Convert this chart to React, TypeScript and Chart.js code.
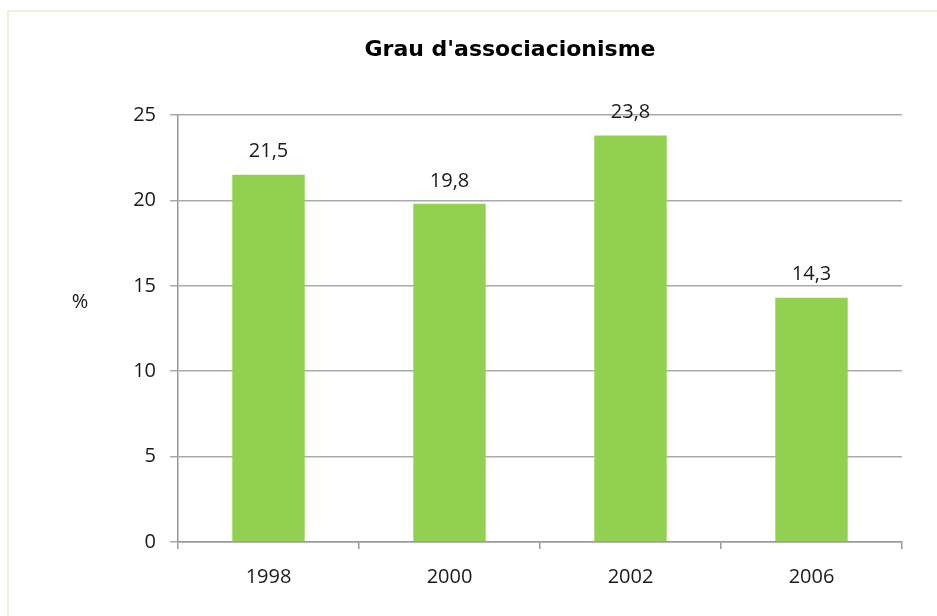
import React, { useEffect, useRef } from "react";
import { Chart, registerables } from "chart.js";

Chart.register(...registerables);

const titleText = "Grau d'associacionisme";
const yAxisLabel = "%";
const categories = ["1998", "2000", "2002", "2006"];
const values = [21.5, 19.8, 23.8, 14.3];
const yTicks = [0, 5, 10, 15, 20, 25];

const W = 937;
const H = 616;
const PLOT_LEFT = 178;
const PLOT_RIGHT = 902;
const PLOT_TOP = 115;
const PLOT_BOTTOM = 542;

const tickFont = { family: "'Open Sans', 'Liberation Sans', sans-serif", size: 20 };

export default function App() {
  const ref = useRef<HTMLCanvasElement | null>(null);

  useEffect(() => {
    if (!ref.current) return;
    const extras = {
      id: "extras",
      afterDraw(chart: any) {
        const ctx = chart.ctx;
        ctx.save();
        ctx.fillStyle = "#000";
        ctx.font = "bold 22px 'DejaVu Sans', 'Liberation Sans', Arial, sans-serif";
        ctx.textAlign = "center";
        ctx.textBaseline = "middle";
        ctx.fillText(titleText, 510, 50);
        ctx.font = `${tickFont.size}px ${tickFont.family}`;
        ctx.fillStyle = "#1a1a1a";
        ctx.fillText(yAxisLabel, 80, 302);
        const meta = chart.getDatasetMeta(0);
        meta.data.forEach((bar: any, i: number) => {
          ctx.fillText(String(values[i]).replace(".", ","), bar.x, bar.y - 23);
        });
        ctx.restore();
      },
    };
    const chart = new Chart(ref.current, {
      type: "bar",
      data: {
        labels: categories,
        datasets: [
          {
            data: values,
            backgroundColor: "#92D050",
            barPercentage: 0.4,
            categoryPercentage: 1,
          },
        ],
      },
      options: {
        animation: false,
        responsive: false,
        maintainAspectRatio: false,
        layout: { padding: { top: PLOT_TOP, right: W - PLOT_RIGHT, bottom: 0, left: 0 } },
        plugins: { legend: { display: false }, tooltip: { enabled: false }, title: { display: false } },
        scales: {
          x: {
            offset: true,
            grid: { offset: true, drawOnChartArea: false, drawTicks: true, tickLength: 7, color: "#999", lineWidth: 1.5 },
            border: { color: "#999", width: 1.5 },
            ticks: { font: tickFont, color: "#1a1a1a", padding: 16 },
            afterFit(scale: any) {
              scale.height = H - PLOT_BOTTOM;
            },
          },
          y: {
            min: 0,
            max: 25,
            afterBuildTicks(scale: any) {
              scale.ticks = yTicks.map((v) => ({ value: v }));
            },
            grid: { color: "#aaa", lineWidth: 1.5, tickLength: 8 },
            border: { color: "#999", width: 1.5 },
            ticks: { font: tickFont, color: "#1a1a1a", padding: 14 },
            afterFit(scale: any) {
              scale.width = PLOT_LEFT;
            },
          },
        },
      },
      plugins: [extras],
    });
    return () => chart.destroy();
  }, []);

  return (
    <div style={{ position: "fixed", left: 0, top: 0, width: W, height: H, background: "#fff", overflow: "hidden" }}>
      <div
        style={{
          position: "absolute",
          left: 7,
          top: 10,
          width: 1000,
          height: 700,
          border: "2px solid #EEF0DC",
          boxSizing: "border-box",
        }}
      />
      <canvas ref={ref} width={W} height={H} style={{ position: "absolute", left: 0, top: 0, width: W, height: H }} />
    </div>
  );
}
